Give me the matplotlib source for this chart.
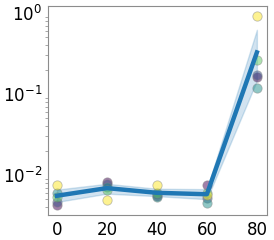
import numpy as np
import pandas as pd
import matplotlib
matplotlib.use("Agg")
import matplotlib.pyplot as plt
import seaborn as sns

steps = [0, 20, 40, 60, 80]
# one series per run, colours from viridis
run0 = [0.0043, 0.0082, 0.0055, 0.0075, 0.16]
run1 = [0.0046, 0.0077, 0.0058, 0.0052, 0.17]
run2 = [0.0060, 0.0071, 0.0053, 0.0045, 0.12]
run3 = [0.0053, 0.0065, 0.0060, 0.0060, 0.26]
run4 = [0.0075, 0.0049, 0.0075, 0.0057, 0.92]
runs = [run0, run1, run2, run3, run4]

rows = []
for i, r in enumerate(runs):
    for s, v in zip(steps, r):
        rows.append({"step": s, "value": v, "run": i})
df = pd.DataFrame(rows)

fig = plt.figure(figsize=(2.74, 2.40), dpi=100)
ax = fig.add_axes([0.175, 0.104, 0.799, 0.871])

colors = plt.cm.viridis(np.linspace(0, 1, len(runs)))
for c, r in zip(colors, runs):
    ax.scatter(steps, r, s=45, color=c, alpha=0.5, edgecolor="0.5",
               linewidth=0.6, zorder=2)

sns.lineplot(data=df, x="step", y="value", ax=ax, color="#1f77b4",
             linewidth=3.2, errorbar=("ci", 95), seed=0, zorder=3)

ax.set_yscale("log")
ax.set_ylim(0.0032, 1.22)
ax.set_xlim(-3.6, 84)
ax.set_xticks(steps)
ax.set_xlabel("")
ax.set_ylabel("")
for sp in ax.spines.values():
    sp.set_color("0.55")
ax.tick_params(which="major", length=0, labelsize=12, pad=4)
ax.tick_params(which="minor", length=2, color="0.6")

fig.savefig("out.png", dpi=100)
